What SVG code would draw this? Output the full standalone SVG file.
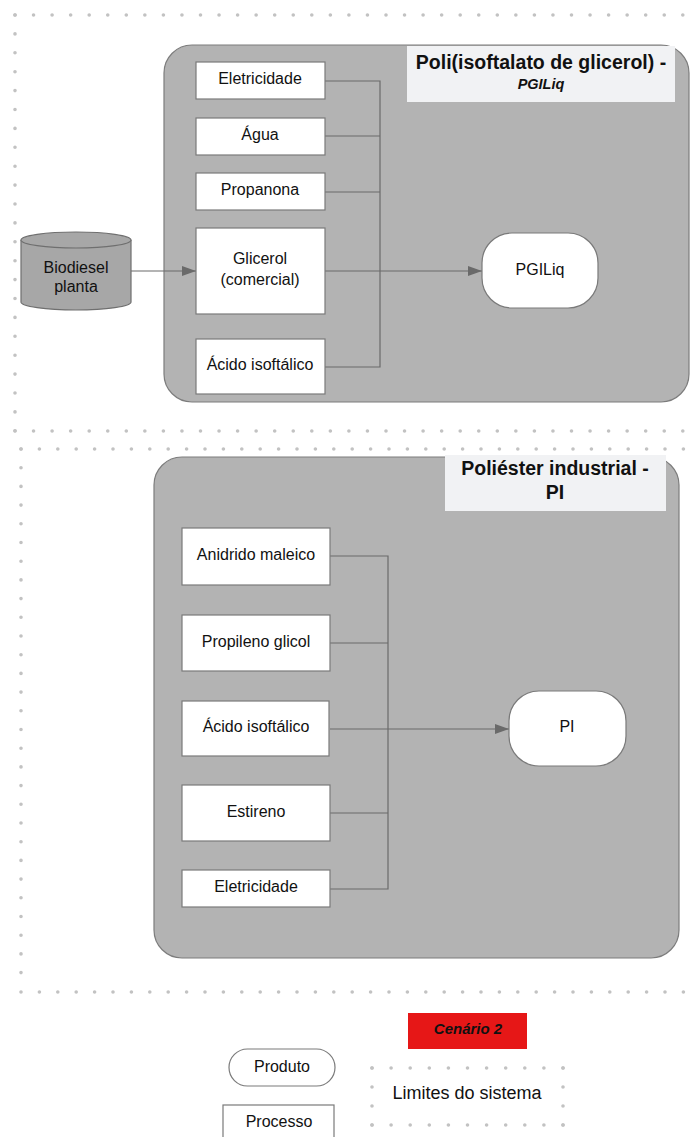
<svg xmlns="http://www.w3.org/2000/svg" width="694" height="1137" viewBox="0 0 694 1137">
  <style>
    text { font-family: "Liberation Sans", Arial, sans-serif; fill: #111; }
    .lbl { font-size: 16px; text-anchor: middle; }
    .ttl { font-size: 19.5px; font-weight: bold; text-anchor: middle; }
    .dots { fill: none; stroke: #c2c2c2; stroke-width: 3.6; stroke-linecap: round; }
    .area { fill: #b3b3b3; stroke: #7c7c7c; stroke-width: 1.2; }
    .head { fill: #f1f2f4; }
    .proc { fill: #ffffff; stroke: #7a7a7a; stroke-width: 1.2; }
    .prod { fill: #ffffff; stroke: #7a7a7a; stroke-width: 1.2; }
    .wire { fill: none; stroke: #6a6a6a; stroke-width: 1.2; }
  </style>
  <defs>
    <marker id="arrow" markerWidth="14" markerHeight="10" refX="14" refY="5" orient="auto" markerUnits="userSpaceOnUse">
      <path d="M0,0 L14,5 L0,10 Z" fill="#6a6a6a"/>
    </marker>
  </defs>

  <!-- system boundary 1 (dotted) -->
  <g id="boundary-1">
    <line class="dots" x1="15" y1="15" x2="684" y2="15" stroke-dasharray="0 18.55"/>
    <line class="dots" x1="15" y1="15" x2="15" y2="431.5" stroke-dasharray="0 18.9"/>
    <line class="dots" x1="15" y1="431" x2="684" y2="431" stroke-dasharray="0 18.55"/>
  </g>

  <!-- system boundary 2 (dotted) -->
  <g id="boundary-2">
    <line class="dots" x1="21" y1="449" x2="684" y2="449" stroke-dasharray="0 18.4"/>
    <line class="dots" x1="21" y1="449" x2="21" y2="974" stroke-dasharray="0 18.7"/>
    <line class="dots" x1="21" y1="992" x2="684" y2="992" stroke-dasharray="0 18.4"/>
  </g>

  <!-- process area: PGILiq -->
  <g id="area-pgiliq">
    <rect class="area" x="164" y="45" width="525" height="357" rx="28" ry="28"/>
    <rect class="head" x="407" y="46" width="268" height="56"/>
    <text class="ttl" x="541" y="69">Poli(isoftalato de glicerol) -</text>
    <text x="541" y="89" text-anchor="middle" font-size="14.5" font-weight="bold" font-style="italic">PGILiq</text>
  </g>

  <!-- process area: PI -->
  <g id="area-pi">
    <rect class="area" x="154" y="457" width="525" height="501" rx="28" ry="28"/>
    <rect class="head" x="445" y="455" width="221" height="56"/>
    <text class="ttl" x="555" y="475">Poliéster industrial -</text>
    <text class="ttl" x="555" y="499">PI</text>
  </g>

  <!-- connectors -->
  <g id="connectors">
    <path class="wire" d="M325,81 H380 V367 H325 M325,136 H380 M325,192 H380"/>
    <line class="wire" x1="325" y1="271" x2="482" y2="271" marker-end="url(#arrow)"/>
    <line class="wire" x1="131" y1="271" x2="196" y2="271" marker-end="url(#arrow)"/>
    <path class="wire" d="M330,556 H388 V889 H330 M330,643 H388 M330,813 H388"/>
    <line class="wire" x1="330" y1="729" x2="509" y2="729" marker-end="url(#arrow)"/>
  </g>

  <!-- source -->
  <g id="biodiesel-planta">
    <path d="M21,240 V302 A55,8 0 0 0 131,302 V240" fill="#a7a7a7" stroke="#6f6f6f" stroke-width="1.2"/>
    <ellipse cx="76" cy="240" rx="55" ry="8" fill="#a7a7a7" stroke="#6f6f6f" stroke-width="1.2"/>
    <text class="lbl" x="76" y="273">Biodiesel</text>
    <text class="lbl" x="76" y="292">planta</text>
  </g>

  <!-- inputs to PGILiq -->
  <g id="p1-eletricidade">
    <rect class="proc" x="196" y="62" width="129" height="37"/>
    <text class="lbl" x="260" y="84">Eletricidade</text>
  </g>
  <g id="p1-agua">
    <rect class="proc" x="196" y="118" width="129" height="37"/>
    <text class="lbl" x="260" y="140">Água</text>
  </g>
  <g id="p1-propanona">
    <rect class="proc" x="196" y="173" width="129" height="37"/>
    <text class="lbl" x="260" y="195">Propanona</text>
  </g>
  <g id="p1-glicerol">
    <rect class="proc" x="196" y="228" width="129" height="86"/>
    <text class="lbl" x="260" y="264">Glicerol</text>
    <text class="lbl" x="260" y="285">(comercial)</text>
  </g>
  <g id="p1-acido-isoftalico">
    <rect class="proc" x="196" y="339" width="129" height="55"/>
    <text class="lbl" x="260" y="370">Ácido isoftálico</text>
  </g>

  <!-- product PGILiq -->
  <g id="prod-pgiliq">
    <rect class="prod" x="482" y="233" width="116" height="75" rx="30" ry="30"/>
    <text class="lbl" x="540" y="275">PGILiq</text>
  </g>

  <!-- inputs to PI -->
  <g id="p2-anidrido-maleico">
    <rect class="proc" x="182" y="528" width="148" height="57"/>
    <text class="lbl" x="256" y="560">Anidrido maleico</text>
  </g>
  <g id="p2-propileno-glicol">
    <rect class="proc" x="182" y="615" width="148" height="56"/>
    <text class="lbl" x="256" y="647">Propileno glicol</text>
  </g>
  <g id="p2-acido-isoftalico">
    <rect class="proc" x="182" y="701" width="147" height="55"/>
    <text class="lbl" x="256" y="732">Ácido isoftálico</text>
  </g>
  <g id="p2-estireno">
    <rect class="proc" x="182" y="785" width="148" height="56"/>
    <text class="lbl" x="256" y="817">Estireno</text>
  </g>
  <g id="p2-eletricidade">
    <rect class="proc" x="182" y="870" width="148" height="37"/>
    <text class="lbl" x="256" y="892">Eletricidade</text>
  </g>

  <!-- product PI -->
  <g id="prod-pi">
    <rect class="prod" x="509" y="691" width="117" height="75" rx="30" ry="30"/>
    <text class="lbl" x="567" y="732">PI</text>
  </g>

  <!-- legend -->
  <g id="legend-cenario">
    <rect x="408" y="1013" width="119" height="36" fill="#e61717"/>
    <text x="468" y="1034" text-anchor="middle" font-size="15" font-weight="bold" font-style="italic">Cenário 2</text>
  </g>
  <g id="legend-produto">
    <rect class="prod" x="229" y="1049" width="106" height="37" rx="18.5" ry="18.5"/>
    <text class="lbl" x="282" y="1072">Produto</text>
  </g>
  <g id="legend-processo">
    <rect class="proc" x="223" y="1105" width="111" height="40"/>
    <text class="lbl" x="279" y="1127">Processo</text>
  </g>
  <g id="legend-limites">
    <line class="dots" x1="372" y1="1068" x2="563.5" y2="1068" stroke-dasharray="0 19.1"/>
    <line class="dots" x1="372" y1="1125" x2="563.5" y2="1125" stroke-dasharray="0 19.1"/>
    <line class="dots" x1="372" y1="1068" x2="372" y2="1125.5" stroke-dasharray="0 19"/>
    <line class="dots" x1="563" y1="1068" x2="563" y2="1125.5" stroke-dasharray="0 19"/>
    <text x="467" y="1099" text-anchor="middle" font-size="18">Limites do sistema</text>
  </g>
</svg>
